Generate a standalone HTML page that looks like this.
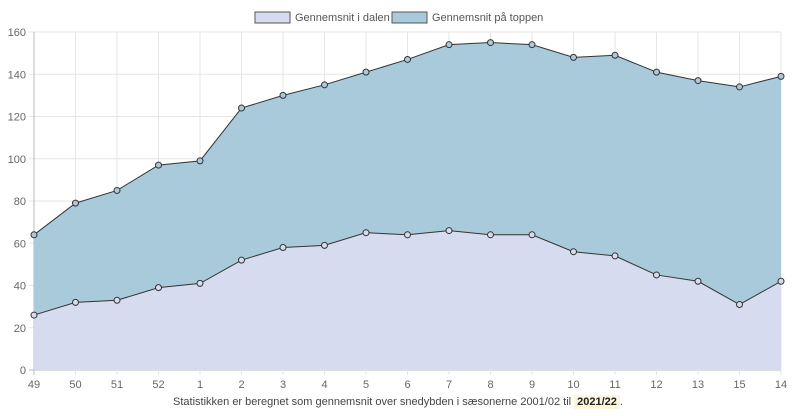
<!DOCTYPE html>
<html><head><meta charset="utf-8"><style>
body{margin:0;background:#fff;width:796px;height:416px;overflow:hidden;font-family:"Liberation Sans",sans-serif}
#note{position:absolute;left:0;top:396px;width:796px;text-align:center;font-size:11px;color:#444}
#note b{background:#fcf6dc;padding:1px 3px;color:#222}
</style></head><body>
<svg id="chart" width="796" height="396" style="position:absolute;left:0;top:0" font-family="Liberation Sans, sans-serif">
<g>
<rect x="255" y="12" width="35" height="11" fill="#d6dbef" stroke="#555" stroke-width="1"/>
<text x="295" y="21" font-size="11" fill="#555">Gennemsnit i dalen</text>
<rect x="392" y="12" width="35" height="11" fill="#a9cadb" stroke="#555" stroke-width="1"/>
<text x="432" y="21" font-size="11" fill="#555">Gennemsnit på toppen</text>
</g>
<g id="grid"></g><g id="areas"></g><g id="axes"></g>
</svg>
<div id="note">Statistikken er beregnet som gennemsnit over snedybden i sæsonerne 2001/02 til <b>2021/22</b>.</div>
<script>
const categories=["49","50","51","52","1","2","3","4","5","6","7","8","9","10","11","12","13","15","14"];
const topValues=[64,79,85,97,99,124,130,135,141,147,154,155,154,148,149,141,137,134,139];
const valleyValues=[26,32,33,39,41,52,58,59,65,64,66,64,64,56,54,45,42,31,42];
const yTicks=[0,20,40,60,80,100,120,140,160];
const NS="http://www.w3.org/2000/svg";
const X0=34,X1=781,Y0=370,Y1=32,YMAX=160;
const xs=i=>X0+i*(X1-X0)/(categories.length-1);
const ys=v=>Y0-v/YMAX*(Y0-Y1);
function mk(t,a,p){const e=document.createElementNS(NS,t);for(const k in a)e.setAttribute(k,a[k]);p.appendChild(e);return e;}
const grid=document.getElementById('grid'),areas=document.getElementById('areas'),axes=document.getElementById('axes');
yTicks.forEach(v=>{
 const l=mk('line',{x1:X0-5,x2:X1,y1:ys(v),y2:ys(v),stroke:v===0?'#bbb':'#e6e6e6'},grid);
 
 
 const t=mk('text',{x:X0-8,y:ys(v)+4,'text-anchor':'end','font-size':11,fill:'#666'},axes);
 t.textContent=v;
 
 
});
categories.forEach((c,i)=>{
 const l=mk('line',{x1:xs(i),x2:xs(i),y1:Y1,y2:Y0+5,stroke:i===0?'#bbb':'#e6e6e6'},grid);
 
 
 const t=mk('text',{x:xs(i),y:Y0+18,'text-anchor':'middle','font-size':11,fill:'#666'},axes);
 t.textContent=c;
 
 
});
function series(vals,fill,name){
 let pts=vals.map((v,i)=>xs(i)+','+ys(v)).join(' ');
 const a=mk('polygon',{points:xs(0)+','+Y0+' '+pts+' '+xs(vals.length-1)+','+Y0,fill:fill},areas);
 
 
 return pts;
}
const p1=series(topValues,'#a9cadb','toppen');
const p2=series(valleyValues,'#d6dbef','dalen');
[[p1,topValues,'#a9cadb','toppen'],[p2,valleyValues,'#d6dbef','dalen']].forEach(([p,vals,f,n])=>{
 const l=mk('polyline',{points:p,fill:'none',stroke:'#333','stroke-width':1},areas);
 
 
 vals.forEach((v,i)=>{
  const c=mk('circle',{cx:xs(i),cy:ys(v),r:3,fill:f,stroke:'#333','stroke-width':1},areas);
  
  
 });
});
</script>
</body></html>
